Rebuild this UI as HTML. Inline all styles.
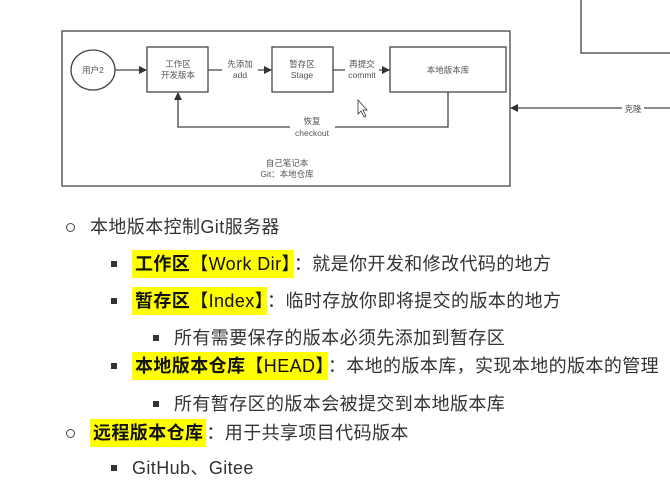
<!DOCTYPE html>
<html><head><meta charset="utf-8"><style>
body{margin:0;width:670px;height:499px;background:#fff;overflow:hidden;position:relative;font-family:"Liberation Sans","Noto Sans CJK SC",sans-serif;}
.t{position:absolute;font-size:18px;letter-spacing:0.4px;color:#333;white-space:nowrap;line-height:20px;}
.hl{background:#ffff00;color:#111;font-weight:bold;padding:4px 3px;}
.hl span{font-weight:normal;}
.c{position:absolute;width:7px;height:7px;border:1.5px solid #444;border-radius:50%;}
.s{position:absolute;width:6px;height:6px;background:#333;}
</style></head><body>
<svg width="670" height="200" style="position:absolute;left:0;top:0" font-family="Liberation Sans, Noto Sans CJK SC, sans-serif" font-size="8.5" fill="#555">
<defs><marker id="a" markerWidth="8" markerHeight="8" refX="7" refY="4" orient="auto" markerUnits="userSpaceOnUse"><path d="M0,0 L8,4 L0,8z" fill="#333"/></marker></defs>
<g stroke="#444" stroke-width="1.3" fill="none">
<rect x="62" y="31" width="448" height="155"/>
<rect x="581" y="-5" width="100" height="58"/>
<ellipse cx="93" cy="70" rx="22" ry="20" fill="#fff"/>
<rect x="147" y="47" width="61" height="45"/>
<rect x="272" y="47" width="61" height="45"/>
<rect x="390" y="47" width="116" height="45"/>
<line x1="115" y1="70" x2="146" y2="70" marker-end="url(#a)"/>
<line x1="208" y1="70" x2="271" y2="70" marker-end="url(#a)"/>
<line x1="333" y1="70" x2="389" y2="70" marker-end="url(#a)"/>
<polyline points="448,92 448,127 178,127 178,93" marker-end="url(#a)"/>
<line x1="670" y1="108" x2="511" y2="108" marker-end="url(#a)"/>
</g>
<rect x="222" y="62" width="36" height="18" fill="#fff"/>
<rect x="345" y="62" width="34" height="18" fill="#fff"/>
<rect x="290" y="115" width="45" height="22" fill="#fff"/>
<rect x="622" y="103" width="22" height="10" fill="#fff"/>
<text x="93" y="73" text-anchor="middle">用户2</text>
<text x="178" y="67" text-anchor="middle">工作区</text><text x="178" y="78" text-anchor="middle">开发版本</text>
<text x="240" y="67" text-anchor="middle">先添加</text><text x="240" y="78" text-anchor="middle">add</text>
<text x="302" y="67" text-anchor="middle">暂存区</text><text x="302" y="78" text-anchor="middle">Stage</text>
<text x="362" y="67" text-anchor="middle">再提交</text><text x="362" y="78" text-anchor="middle">commit</text>
<text x="448" y="73" text-anchor="middle">本地版本库</text>
<text x="312" y="124" text-anchor="middle">恢复</text><text x="312" y="136" text-anchor="middle">checkout</text>
<text x="287" y="166" text-anchor="middle">自己笔记本</text><text x="287" y="177" text-anchor="middle">Git：本地仓库</text>
<text x="633" y="112" text-anchor="middle">克隆</text>
<path d="M358 100 L358 114 L361 111 L364 117 L366 116 L363 110 L367 110 Z" fill="#fff" stroke="#333" stroke-width="0.8"/>
</svg>
<div class="c" style="left:66px;top:223px"></div><div class="t" style="left:90px;top:217px">本地版本控制Git服务器</div>
<div class="s" style="left:111px;top:261px"></div><div class="t" style="left:132px;top:254px"><span class="hl">工作区<span>【Work Dir】</span></span>：就是你开发和修改代码的地方</div>
<div class="s" style="left:111px;top:298px"></div><div class="t" style="left:132px;top:291px"><span class="hl">暂存区<span>【Index】</span></span>：临时存放你即将提交的版本的地方</div>
<div class="s" style="left:153px;top:335px"></div><div class="t" style="left:174px;top:328px">所有需要保存的版本必须先添加到暂存区</div>
<div class="s" style="left:111px;top:363px"></div><div class="t" style="left:132px;top:356px"><span class="hl">本地版本仓库<span>【HEAD】</span></span>：本地的版本库，实现本地的版本的管理</div>
<div class="s" style="left:153px;top:401px"></div><div class="t" style="left:174px;top:394px">所有暂存区的版本会被提交到本地版本库</div>
<div class="c" style="left:66px;top:429px"></div><div class="t" style="left:90px;top:423px"><span class="hl">远程版本仓库</span>：用于共享项目代码版本</div>
<div class="s" style="left:111px;top:465px"></div><div class="t" style="left:132px;top:458px">GitHub、Gitee</div>
</body></html>
